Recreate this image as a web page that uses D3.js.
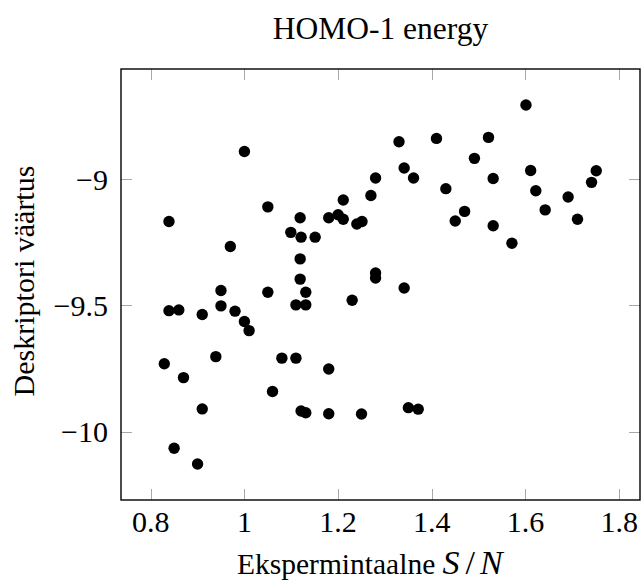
<!DOCTYPE html>
<html>
<head>
<meta charset="utf-8">
<script src="https://cdn.jsdelivr.net/npm/d3@7"></script>
<style>
  body { margin: 0; background: #fff; }
  svg text { font-family: "Liberation Serif", "DejaVu Serif", serif; fill: #000; }
</style>
</head>
<body>
<svg id="chart" width="643" height="585"></svg>
<script>
// experimental S/N values
var snValues = [
  1.000, 0.839, 1.050, 1.211, 1.119, 1.180, 1.200, 1.211, 1.099, 1.121,
  1.151, 0.970, 1.119, 1.119, 1.601, 1.330, 1.410, 1.521, 1.491, 1.341,
  1.361, 1.280, 1.270, 1.240, 1.251, 1.430, 1.531, 1.611, 1.622, 1.642,
  1.470, 1.450, 1.531, 1.571, 1.691, 1.711, 1.741, 1.751, 1.280, 1.280,
  1.341, 1.230, 1.250, 1.350, 1.371, 0.839, 0.860, 0.910, 0.950, 0.950,
  0.980, 1.000, 1.010, 1.050, 1.131, 1.110, 1.131, 0.829, 0.870, 0.939,
  1.080, 1.110, 1.180, 1.060, 0.910, 1.121, 1.131, 1.180, 0.850, 0.900
];
// descriptor values (HOMO-1 energy)
var descValues = [
  -8.891, -9.168, -9.110, -9.083, -9.153, -9.153, -9.141, -9.159, -9.211, -9.230,
  -9.230, -9.267, -9.316, -9.396, -8.707, -8.852, -8.839, -8.835, -8.918, -8.956,
  -8.996, -8.996, -9.065, -9.178, -9.168, -9.038, -8.998, -8.966, -9.046, -9.122,
  -9.128, -9.166, -9.185, -9.254, -9.071, -9.159, -9.013, -8.967, -9.372, -9.392,
  -9.431, -9.480, -9.930, -9.905, -9.911, -9.521, -9.518, -9.536, -9.441, -9.502,
  -9.523, -9.564, -9.600, -9.448, -9.448, -9.498, -9.498, -9.731, -9.786, -9.703,
  -9.709, -9.709, -9.752, -9.841, -9.910, -9.918, -9.925, -9.929, -10.066, -10.128
];
var xTicks = [0.8, 1, 1.2, 1.4, 1.6, 1.8];
var yTicks = [-9, -9.5, -10];

var points = snValues.map(function(v, i) { return { x: v, y: descValues[i] }; });

var svg = d3.select('#chart');
var plot = { left: 121, right: 640, top: 69, bottom: 500 };
var tickLen = 11;
var fontSize = 30;

// limits padded like pgfplots' enlarged axis limits
var x = d3.scaleLinear().domain([0.7366, 1.8444]).range([plot.left, plot.right]);
var y = d3.scaleLinear().domain([-10.2706, -8.5642]).range([plot.bottom, plot.top]);

var fmt = function(d) { return String(d).replace('-', '\u2212'); };

// ticks, drawn inward on all four sides
var ticks = svg.append('g').attr('stroke', '#a8a8a8').attr('stroke-width', 1);
xTicks.forEach(function(t) {
  var px = Math.round(x(t)) + 0.5;
  ticks.append('line').attr('x1', px).attr('x2', px).attr('y1', plot.bottom).attr('y2', plot.bottom - tickLen);
  ticks.append('line').attr('x1', px).attr('x2', px).attr('y1', plot.top).attr('y2', plot.top + tickLen);
});
yTicks.forEach(function(t) {
  var py = Math.round(y(t)) + 0.5;
  ticks.append('line').attr('y1', py).attr('y2', py).attr('x1', plot.left).attr('x2', plot.left + tickLen);
  ticks.append('line').attr('y1', py).attr('y2', py).attr('x1', plot.right).attr('x2', plot.right - tickLen);
});

// frame
svg.append('rect')
  .attr('x', plot.left).attr('y', plot.top)
  .attr('width', plot.right - plot.left).attr('height', plot.bottom - plot.top)
  .attr('fill', 'none').attr('stroke', '#000').attr('stroke-width', 1.4);

// tick labels
svg.append('g').selectAll('text')
  .data(xTicks).enter().append('text')
  .attr('x', function(d) { return x(d); })
  .attr('y', 532)
  .attr('text-anchor', 'middle')
  .attr('font-size', fontSize)
  .text(fmt);

svg.append('g').selectAll('text')
  .data(yTicks).enter().append('text')
  .attr('x', 108)
  .attr('y', function(d) { return y(d); })
  .attr('dy', '0.35em')
  .attr('text-anchor', 'end')
  .attr('font-size', fontSize)
  .text(fmt);

// points
svg.append('g').selectAll('circle')
  .data(points).enter().append('circle')
  .attr('cx', function(d) { return x(d.x); })
  .attr('cy', function(d) { return y(d.y); })
  .attr('r', 5.7)
  .attr('fill', '#000');

// title
svg.append('text')
  .attr('x', (plot.left + plot.right) / 2).attr('y', 39)
  .attr('text-anchor', 'middle').attr('font-size', 31.5)
  .text('HOMO-1 energy');

// x label, S/N set a bit wider like math mode
var xl = svg.append('text')
  .attr('x', 237).attr('y', 574)
  .attr('font-size', 29.5);
xl.append('tspan').text('Ekspermintaalne ');
xl.append('tspan').attr('font-style', 'italic').attr('font-size', 34).text('S');
xl.append('tspan').attr('dx', 6).attr('font-size', 34).text('/');
xl.append('tspan').attr('dx', 5).attr('font-style', 'italic').attr('font-size', 34).text('N');

// y label
svg.append('text')
  .attr('transform', 'translate(34,281) rotate(-90)')
  .attr('text-anchor', 'middle').attr('font-size', fontSize)
  .text('Deskriptori väärtus');
</script>
</body>
</html>
